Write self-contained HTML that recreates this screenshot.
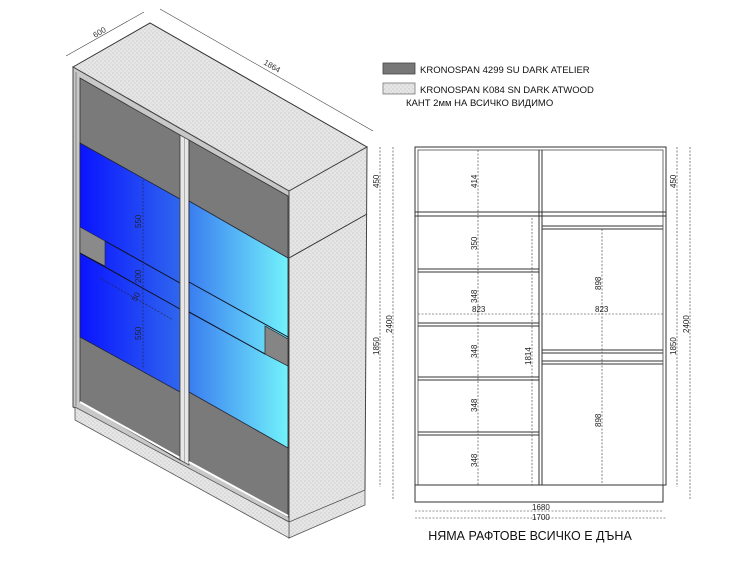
<!DOCTYPE html>
<html><head><meta charset="utf-8"><style>
html,body{margin:0;padding:0;background:#fff;}
svg{display:block;font-family:"Liberation Sans","DejaVu Sans",sans-serif;}
</style></head><body>
<svg width="738" height="585" viewBox="0 0 738 585" xmlns="http://www.w3.org/2000/svg">
<defs>
<pattern id="tx" width="4" height="4" patternUnits="userSpaceOnUse">
<rect width="4" height="4" fill="#e6e6e6"/><circle cx="1" cy="1" r="0.7" fill="#c8c8c8"/><circle cx="3" cy="3" r="0.7" fill="#d0d0d0"/>
</pattern>
<linearGradient id="gl" x1="0" x2="1" y1="0" y2="0"><stop offset="0" stop-color="#0a14ff"/><stop offset="1" stop-color="#2f66ee"/></linearGradient>
<linearGradient id="gr" x1="0" x2="1" y1="0" y2="0"><stop offset="0" stop-color="#3a7df0"/><stop offset="1" stop-color="#72f2fb"/></linearGradient>
</defs>

<polygon points="73,67 150,23 367,147 289,191" fill="url(#tx)" stroke="#333" stroke-width="1"/>
<line x1="75" y1="70" x2="289" y2="193" stroke="#555" stroke-width="1"/>
<line x1="77" y1="74" x2="289" y2="195" stroke="#777" stroke-width="1"/>
<polygon points="289,191 367,147 365,490 289,538" fill="url(#tx)" stroke="#444" stroke-width="1"/>
<line x1="289" y1="258" x2="367" y2="214" stroke="#333" stroke-width="1"/>
<polygon points="289,522 365,490 365,505 289,538" fill="url(#tx)" stroke="#555" stroke-width="0.8"/>
<polygon points="73,67 289,191 289,522 73,407" fill="#c8c8c8" stroke="#444" stroke-width="1"/>
<line x1="76" y1="72" x2="76" y2="406" stroke="#666" stroke-width="0.7"/>
<polygon points="75,407 289,522 289,538 75,420" fill="url(#tx)" stroke="#555" stroke-width="0.8"/>
<polygon points="80,78 180,135 180,460 80,402" fill="#7a7a7a" stroke="#333" stroke-width="0.8"/>
<polygon points="80,143 180,199 180,392 80,337" fill="url(#gl)" stroke="#223" stroke-width="0.8"/>
<polygon points="80,227 105,241 105,266 80,253" fill="#8a8a8a" stroke="#223" stroke-width="0.6"/>
<line x1="105" y1="241" x2="180" y2="283" stroke="#112" stroke-width="1"/>
<line x1="80" y1="253" x2="180" y2="309" stroke="#112" stroke-width="1"/>
<polyline points="80,402 180,458" fill="none" stroke="#fff" stroke-width="2"/>
<polygon points="180,135 189,140 189,465 180,460" fill="#e6e6e6" stroke="#444" stroke-width="0.8"/>
<line x1="184.5" y1="138" x2="184.5" y2="462" stroke="#888" stroke-width="0.6"/>
<polygon points="189,140 288,196 288,517 189,462" fill="#7a7a7a" stroke="#333" stroke-width="0.8"/>
<polygon points="189,201 288,258 288,448 189,392" fill="url(#gr)" stroke="#223" stroke-width="0.8"/>
<line x1="189" y1="282" x2="288" y2="337" stroke="#112" stroke-width="1"/>
<line x1="189" y1="312" x2="265" y2="354" stroke="#112" stroke-width="1"/>
<polygon points="265,326 288,339 288,366 265,354" fill="#858585" stroke="#222" stroke-width="0.7"/>
<polyline points="189,462 288,516" fill="none" stroke="#fff" stroke-width="2"/>
<g stroke="#223" stroke-width="0.6" stroke-dasharray="2,1.5" fill="none">
<line x1="143" y1="180" x2="143" y2="368"/>
<line x1="100" y1="278" x2="173" y2="320"/>
</g>
<g font-size="8" fill="#223">
<text transform="translate(141,228) rotate(-90)">550</text>
<text transform="translate(141,283) rotate(-90)">200</text>
<text transform="translate(141,340) rotate(-90)">550</text>
<text transform="translate(136,302) rotate(-60)">50</text>
</g>
<g stroke="#444" stroke-width="0.6">
<line x1="66" y1="56" x2="144" y2="12"/><line x1="160" y1="9" x2="373" y2="131"/>
</g>
<text transform="translate(95,38) rotate(-30)" font-size="8" fill="#333">600</text>
<text transform="translate(263,64) rotate(30)" font-size="8" fill="#333">1864</text>

<rect x="383" y="63" width="32" height="11" fill="#777" stroke="#444" stroke-width="0.8"/>
<rect x="383" y="83" width="32" height="11" fill="url(#tx)" stroke="#777" stroke-width="0.8"/>
<g font-size="9.5" fill="#111">
<text x="420" y="73">KRONOSPAN 4299 SU DARK ATELIER</text>
<text x="420" y="93">KRONOSPAN K084 SN DARK ATWOOD</text>
<text x="406" y="106">КАНТ 2мм НА ВСИЧКО ВИДИМО</text>
</g>

<g fill="none" stroke="#333" stroke-width="1">
<rect x="415" y="147" width="251" height="338"/>
<rect x="418" y="150" width="245" height="335" stroke-width="0.7"/>
<rect x="415" y="485" width="248" height="17"/>
<line x1="415" y1="212" x2="666" y2="212"/><line x1="415" y1="216" x2="666" y2="216"/>
<line x1="539" y1="150" x2="539" y2="485"/><line x1="542" y1="150" x2="542" y2="485"/>
<line x1="418" y1="269" x2="539" y2="269"/><line x1="418" y1="272" x2="539" y2="272"/>
<line x1="418" y1="323" x2="539" y2="323"/><line x1="418" y1="326" x2="539" y2="326"/>
<line x1="418" y1="377" x2="539" y2="377"/><line x1="418" y1="380" x2="539" y2="380"/>
<line x1="418" y1="432" x2="539" y2="432"/><line x1="418" y1="435" x2="539" y2="435"/>
<line x1="542" y1="226" x2="663" y2="226"/><line x1="542" y1="229" x2="663" y2="229"/>
<line x1="542" y1="350" x2="663" y2="350"/><line x1="542" y1="353" x2="663" y2="353"/>
<line x1="542" y1="361" x2="663" y2="361"/><line x1="542" y1="364" x2="663" y2="364"/>
</g>
<g stroke="#333" stroke-width="0.6" stroke-dasharray="2,1.5">
<line x1="478" y1="150" x2="478" y2="485"/>
<line x1="532" y1="218" x2="532" y2="485"/>
<line x1="602" y1="229" x2="602" y2="485"/>
<line x1="418" y1="314" x2="539" y2="314"/><line x1="542" y1="314" x2="663" y2="314"/>
<line x1="380" y1="147" x2="380" y2="487"/><line x1="393" y1="147" x2="393" y2="500"/>
<line x1="677" y1="147" x2="677" y2="487"/><line x1="690" y1="147" x2="690" y2="500"/>
<line x1="415" y1="511" x2="663" y2="511"/><line x1="415" y1="518" x2="666" y2="518"/>
</g>
<g font-size="8" fill="#222">
<text transform="translate(477,188) rotate(-90)">414</text>
<text transform="translate(477,250) rotate(-90)">350</text>
<text transform="translate(477,303) rotate(-90)">348</text>
<text transform="translate(477,358) rotate(-90)">348</text>
<text transform="translate(477,412) rotate(-90)">348</text>
<text transform="translate(477,467) rotate(-90)">348</text>
<text transform="translate(531,365) rotate(-90)">1814</text>
<text transform="translate(601,290) rotate(-90)">898</text>
<text transform="translate(601,427) rotate(-90)">898</text>
<text x="472" y="312">823</text><text x="595" y="312">823</text>
<text transform="translate(379,188) rotate(-90)">450</text>
<text transform="translate(379,355) rotate(-90)">1850</text>
<text transform="translate(392,333) rotate(-90)">2400</text>
<text transform="translate(676,188) rotate(-90)">450</text>
<text transform="translate(676,355) rotate(-90)">1850</text>
<text transform="translate(689,333) rotate(-90)">2400</text>
<text x="532" y="510">1680</text><text x="532" y="520">1700</text>
</g>
<text x="530" y="540" font-size="12.5" fill="#111" text-anchor="middle">НЯМА РАФТОВЕ ВСИЧКО Е ДЪНА</text>
</svg>
</body></html>
